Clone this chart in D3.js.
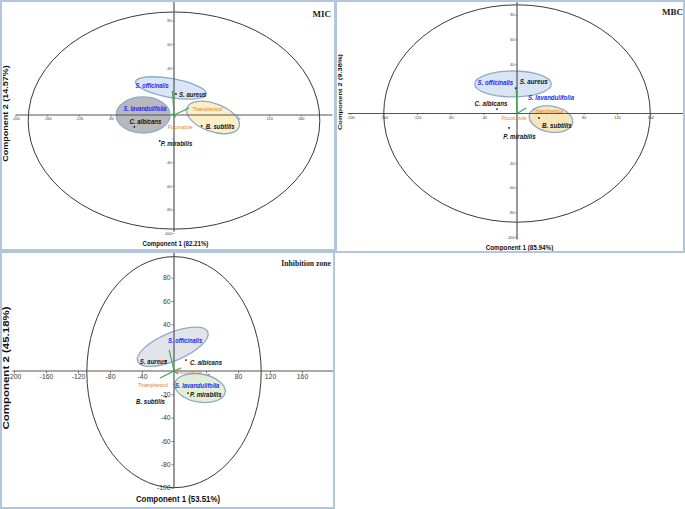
<!DOCTYPE html>
<html><head><meta charset="utf-8">
<script src="https://cdn.jsdelivr.net/npm/d3@7"></script>
<style>body{margin:0;background:#fff}svg{display:block}</style>
</head><body><svg id="c" width="685" height="509"></svg>
<script>
// ---------------- DATA ----------------
const panelNames = ["MIC", "MBC", "Inhibition zone"];
const pc1Labels = ["Component 1 (82.21%)", "Component 1 (85.94%)", "Component 1 (53.51%)"];
const pc2Labels = ["Component 2 (14.57%)", "Component 2 (9.38%)", "Component 2 (45.18%)"];
const xTickValues = [-200, -160, -120, -80, -40, 40, 80, 120, 160];
const yTickValues = [80, 60, 40, 20, -20, -40, -60, -80, -100];

const strains = ["S. aureus", "B. subtilis", "C. albicans", "P. mirabilis"];
const micStrainX = [2.5, 35, -50, -18];
const micStrainY = [17.8, -9.3, -10, -22];
const mbcStrainX = [-1.6, 26.4, -24, -9.6];
const mbcStrainY = [20.6, -3.6, 3.6, -11.7];
const izStrainX = [-10, -10, 15, 17.5];
const izStrainY = [8.6, -22, 9.4, -18.9];

const variables = ["S. officinalis", "S. lavandulifolia", "Thiamphenicol", "Fluconazole"];
const variableKind = ["extract", "extract", "drug", "drug"];
const micVarX = [-2, -3, 19, 2];
const micVarY = [20.3, 1, 6, -2];
const mbcVarX = [-1, 2, 11, -1];
const mbcVarY = [20.6, 1, 4.5, -1];
const izVarX = [-6, 5, -17.5, 8.75];
const izVarY = [18, -2.6, -6, 2.6];

// correlation circle (data units)
const circleCy = [-4.7, 0, -1];
const circleRx = [184, 160, 109];
const circleRy = [92, 88, 99];

// ---------------- LAYOUT ----------------
const layouts = [
  { frame: [1, 1, 335, 250], xr: [15.5, 332.5], yr: [233, -3],
    hLine: [-200, 200], vLine: [100, -99],
    tickFont: 3.8, tickLen: 1.5, sq: 0.82, hideX: [-40], hideY: [-20],
    title: { x: 331, y: 17, size: 9 },
    xTitle: { x: 175.5, y: 245.5, size: 7.5 },
    yTitle: { x: 7.6, y: 113.5, size: 9 },
    strainFont: 7.4, varFont: 6.9, drugFont: 5.6,
    strainOff: [[3, 3, "start"], [4, 3, "start"], [11, -3, "middle"], [1, 5, "start"]],
    varOff: [[-20.4, -3.5, "middle"], [-26.6, -3.3, "middle"], [18, 3, "middle"], [4.4, 11.6, "middle"]],
    groups: [
      { cx: -3.8, cy: 22.9, rx: 45.4, ry: 8, a: 10, fill: "#d9e6f5" },
      { cx: -39, cy: 0, rx: 34, ry: 15.3, a: 0, fill: "#b8b9bd" },
      { cx: 49.2, cy: -2.1, rx: 35, ry: 11.9, a: 20, fill: "#fcefc6" }
    ] },
  { frame: [336, 1, 684, 252], xr: [350.4, 683.6], yr: [237, -10],
    hLine: [-203, 200], vLine: [100, -102],
    tickFont: 3.8, tickLen: 1.5, sq: 0.82, hideX: [], hideY: [-20],
    title: { x: 683, y: 15, size: 9 },
    xTitle: { x: 519.5, y: 250, size: 7.7 },
    yTitle: { x: 341.5, y: 92, size: 7.5 },
    strainFont: 7.6, varFont: 7.4, drugFont: 5.7,
    strainOff: [[4, -3.6, "start"], [3, 9.6, "start"], [-6, -3.5, "middle"], [10.5, 11.5, "middle"]],
    varOff: [[-3, -2.6, "end"], [9.3, -11.8, "start"], [21.8, 5.1, "middle"], [-2.2, 5.3, "middle"]],
    groups: [
      { cx: -4.8, cy: 23.9, rx: 46, ry: 10.5, a: 0, fill: "#d9e4f4" },
      { cx: 40.8, cy: -4.5, rx: 26.4, ry: 10.5, a: 10, fill: "#f8e6bb" }
    ] },
  { frame: [1, 252, 334, 508], xr: [14, 334], yr: [487.7, 254.3],
    hLine: [-202, 200], vLine: [102, -100],
    tickFont: 6.8, tickLen: 2.5, sq: 0.81, hideX: [], hideY: [],
    title: { x: 331, y: 266, size: 7.7 },
    xTitle: { x: 178, y: 502, size: 9.7 },
    yTitle: { x: 9.3, y: 368, size: 11.5 },
    strainFont: 7.5, varFont: 7.2, drugFont: 5.7,
    strainOff: [[-12.5, 3.5, "middle"], [-1, 7.3, "end"], [4, 4.5, "start"], [2, 3.5, "start"]],
    varOff: [[-1.2, -6.5, "start"], [-3, 13.5, "start"], [-7, 9, "middle"], [-4, 6, "start"]],
    groups: [
      { cx: -1.6, cy: 20.8, rx: 47.5, ry: 12, a: -23, fill: "#e2e4ea" },
      { cx: 32.5, cy: -14.6, rx: 32, ry: 12, a: 10, fill: "#e3eed7" }
    ] }
];

const panelData = [
  { sx: micStrainX, sy: micStrainY, vx: micVarX, vy: micVarY },
  { sx: mbcStrainX, sy: mbcStrainY, vx: mbcVarX, vy: mbcVarY },
  { sx: izStrainX, sy: izStrainY, vx: izVarX, vy: izVarY }
];

const SANS = "'Liberation Sans', Arial, sans-serif";
const SERIF = "'Liberation Serif', 'Times New Roman', serif";

function txt(g, x, y, s, o) {
  return g.append("text")
    .attr("transform", o.rot
      ? `translate(${x},${y}) rotate(-90) scale(1,${o.sq || 1})`
      : `translate(${x},${y}) scale(${o.sq || 1},1)`)
    .attr("text-anchor", o.anchor || "start")
    .attr("font-family", o.family || SANS)
    .attr("font-size", o.size)
    .attr("font-weight", o.weight || "normal")
    .attr("font-style", o.style || "normal")
    .attr("fill", o.fill || "#111")
    .text(s);
}

const svg = d3.select("#c");
svg.append("rect").attr("width", 685).attr("height", 509).attr("fill", "#fff");
const defs = svg.append("defs");

layouts.forEach((L, i) => {
  const D = panelData[i];
  const [fx0, fy0, fx1, fy1] = L.frame;
  const x = d3.scaleLinear().domain([-200, 200]).range(L.xr);
  const y = d3.scaleLinear().domain([-100, 100]).range(L.yr);
  const kx = Math.abs(x(1) - x(0)), ky = Math.abs(y(1) - y(0));

  defs.append("clipPath").attr("id", "clip" + i)
    .append("rect").attr("x", fx0).attr("y", fy0).attr("width", fx1 - fx0).attr("height", fy1 - fy0);
  const g = svg.append("g").attr("clip-path", `url(#clip${i})`);

  // ticks
  const gx = g.append("g").attr("transform", `translate(0,${y(0)})`)
    .call(d3.axisBottom(x).tickValues(xTickValues).tickSize(L.tickLen).tickPadding(1)
      .tickFormat(d => L.hideX.includes(d) ? "" : String(d)));
  const gy = g.append("g").attr("transform", `translate(${x(0)},0)`)
    .call(d3.axisLeft(y).tickValues(yTickValues).tickSize(L.tickLen).tickPadding(1)
      .tickFormat(d => L.hideY.includes(d) ? "" : String(d)));
  [gx, gy].forEach(a => {
    a.select(".domain").remove();
    a.selectAll("line").attr("stroke", "#666").attr("stroke-width", 0.8);
    a.selectAll("text").attr("font-size", L.tickFont).attr("font-family", SANS).attr("fill", "#3a3a3a");
  });

  // correlation circle
  g.append("ellipse")
    .attr("cx", x(0)).attr("cy", y(circleCy[i]))
    .attr("rx", circleRx[i] * kx).attr("ry", circleRy[i] * ky)
    .attr("fill", "none").attr("stroke", "#3a3a3a").attr("stroke-width", 1);

  // group ellipses
  L.groups.forEach(e => {
    g.append("ellipse")
      .attr("transform", `translate(${x(e.cx)},${y(e.cy)}) rotate(${e.a})`)
      .attr("rx", e.rx * kx).attr("ry", e.ry * ky)
      .attr("fill", e.fill).attr("stroke", "#8eaacb").attr("stroke-width", 1.3);
  });

  // axis lines
  g.append("line").attr("x1", x(L.hLine[0])).attr("x2", x(L.hLine[1]))
    .attr("y1", y(0)).attr("y2", y(0)).attr("stroke", "#555").attr("stroke-width", 1.2);
  g.append("line").attr("x1", x(0)).attr("x2", x(0))
    .attr("y1", y(L.vLine[0])).attr("y2", y(L.vLine[1])).attr("stroke", "#555").attr("stroke-width", 1.2);

  // variable vectors
  variables.forEach((v, j) => {
    g.append("line").attr("x1", x(0)).attr("y1", y(0))
      .attr("x2", x(D.vx[j])).attr("y2", y(D.vy[j]))
      .attr("stroke", "#3da64a").attr("stroke-width", 1.1);
  });

  // strain points
  strains.forEach((s, j) => {
    g.append("circle").attr("cx", x(D.sx[j])).attr("cy", y(D.sy[j])).attr("r", 0.9).attr("fill", "#111");
  });

  // variable labels
  variables.forEach((v, j) => {
    const o = L.varOff[j];
    const isDrug = variableKind[j] === "drug";
    txt(g, x(D.vx[j]) + o[0], y(D.vy[j]) + o[1], v, {
      size: isDrug ? L.drugFont : L.varFont,
      weight: isDrug ? "normal" : "bold",
      style: isDrug ? "normal" : "italic",
      fill: isDrug ? "#e07a2a" : "#1f1fff",
      anchor: o[2], sq: L.sq
    });
  });

  // strain labels
  strains.forEach((s, j) => {
    const o = L.strainOff[j];
    txt(g, x(D.sx[j]) + o[0], y(D.sy[j]) + o[1], s, {
      size: L.strainFont, weight: "bold", style: "italic", fill: "#141414",
      anchor: o[2], sq: L.sq
    });
  });

  // titles
  txt(g, L.title.x, L.title.y, panelNames[i], { size: L.title.size, weight: "bold", family: SERIF, anchor: "end", fill: "#222" });
  txt(g, L.xTitle.x, L.xTitle.y, pc1Labels[i], { size: L.xTitle.size, weight: "bold", anchor: "middle", sq: L.sq, fill: "#111" });
  txt(g, L.yTitle.x, L.yTitle.y, pc2Labels[i], { size: L.yTitle.size, weight: "bold", anchor: "middle", sq: L.sq, rot: true, fill: "#111" });

  // frame
  svg.append("rect").attr("x", fx0).attr("y", fy0).attr("width", fx1 - fx0).attr("height", fy1 - fy0)
    .attr("fill", "none").attr("stroke", "#b3c6dd").attr("stroke-width", 2);
});
</script>
</body></html>
